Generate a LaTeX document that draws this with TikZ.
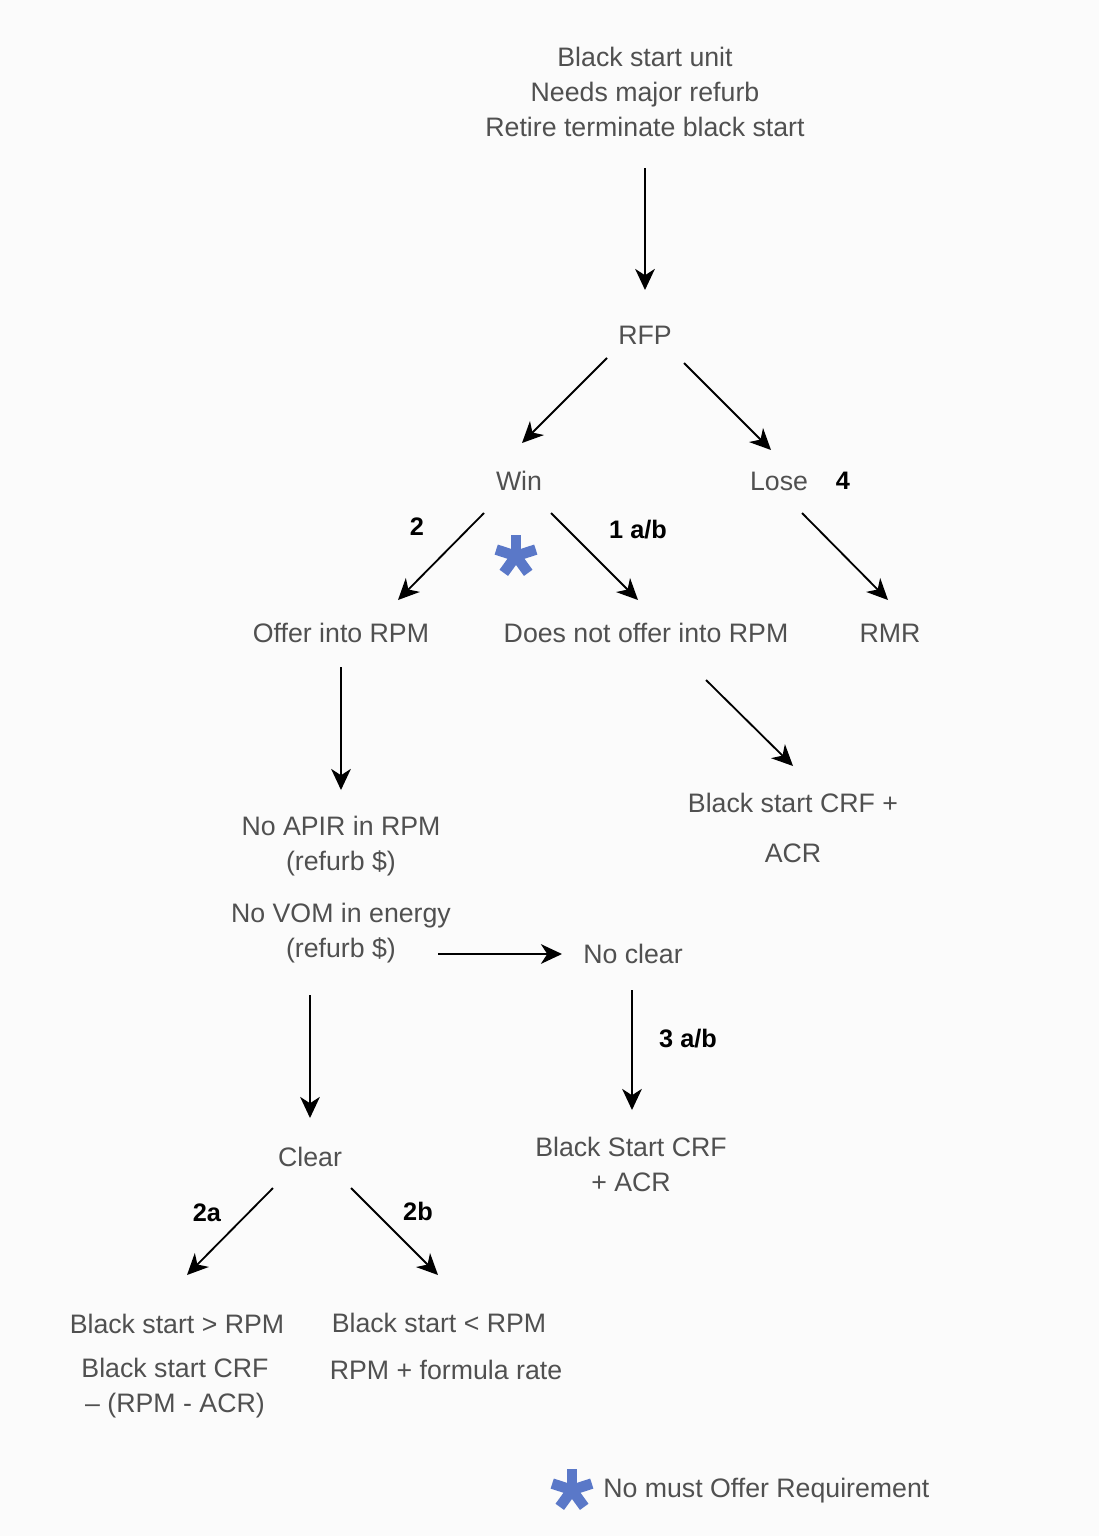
\documentclass[tikz,border=0pt]{standalone}
\usepackage{fontspec}
\setmainfont{Liberation Sans}
\usetikzlibrary{arrows.meta}
\usetikzlibrary{calc}

\definecolor{txtgray}{HTML}{505050}
\definecolor{starblue}{HTML}{5A78C8}
\definecolor{paper}{HTML}{FBFBFB}

\tikzset{
	txt/.style={inner sep=0pt, align=center, text=txtgray, font=\fontsize{19}{25}\selectfont},
	num/.style={inner sep=0pt, text=black, font=\fontsize{18}{22}\selectfont\bfseries},
	arr/.style={line width=1.3pt, -{Stealth[length=15pt,width=14pt,inset=4.5pt]}},
	starline/.style={line width=7.5pt, starblue}
}

\begin{document}
\begin{tikzpicture}[x=0.25mm, y=-0.25mm]
	%Page
	\fill [paper] (0,0) rectangle (1099,1536);
	\useasboundingbox (0,0) rectangle (1099,1536);

	%Top of the tree
	\node [txt] (top) at (645,92) {Black start unit\\Needs major refurb\\Retire terminate black start};
	\node [txt] (rfp) at (645,335) {RFP};
	\node [txt] (win) at (519,481) {Win};
	\node [txt] (lose) at (779,481) {Lose};

	%Second level
	\node [txt] (offer) at (341,633) {Offer into RPM};
	\node [txt] (notoffer) at (646,633) {Does not offer into RPM};
	\node [txt] (rmr) at (890,633) {RMR};
	\node [txt] (crf) at (793,828) {Black start CRF +\\[10pt] ACR};

	%RPM branch
	\node [txt] (apir) at (341,846.5) {No APIR in RPM\\(refurb \$)};
	\node [txt] (vom) at (341,933.5) {No VOM in energy\\(refurb \$)};
	\node [txt] (noclear) at (633,954) {No clear};
	\node [txt] (bscrf) at (631,1164.5) {Black Start CRF\\+ ACR};
	\node [txt] (clear) at (310,1157) {Clear};

	%Outcomes
	\node [txt] (gt) at (177,1324) {Black start > RPM};
	\node [txt] (gtcrf) at (175,1388) {Black start CRF\\– (RPM - ACR)};
	\node [txt] (lt) at (439,1323) {Black start < RPM};
	\node [txt] (ltrate) at (446,1370) {RPM + formula rate};

	%Arrows
	\draw [arr] ($(top)+(0,76)$) -- ($(rfp)+(0,-45)$);
	\draw [arr] ($(rfp)+(-38,23)$) -- ($(win)+(3,-38)$);
	\draw [arr] ($(rfp)+(39,28)$) -- ($(lose)+(-8,-31)$);
	\draw [arr] ($(win)+(-35,32)$) -- ($(offer)+(57,-33)$);
	\draw [arr] ($(win)+(32,32)$) -- ($(notoffer)+(-8,-33)$);
	\draw [arr] ($(lose)+(23,32)$) -- ($(rmr)+(-2,-33)$);
	\draw [arr] ($(offer)+(0,34)$) -- ($(apir)+(0,-56.5)$);
	\draw [arr] ($(notoffer)+(60,47)$) -- ($(crf)+(0,-62)$);
	\draw [arr] ($(vom)+(97,20.5)$) -- ($(noclear)+(-71,0)$);
	\draw [arr] ($(noclear)+(-1,36)$) -- ($(bscrf)+(1,-54.5)$);
	\draw [arr] ($(vom)+(-31,61.5)$) -- ($(clear)+(0,-39)$);
	\draw [arr] ($(clear)+(-37,31)$) -- ($(gt)+(10,-49)$);
	\draw [arr] ($(clear)+(41,31)$) -- ($(lt)+(-1,-48)$);

	%Case numbers
	\node [num] (n4) at (843,481) {4};
	\node [num] (n2) at (417,527) {2};
	\node [num] (n1ab) at (638,530) {1 a/b};
	\node [num] (n3ab) at (688,1039) {3 a/b};
	\node [num] (n2a) at (207,1213) {2a};
	\node [num] (n2b) at (418,1211) {2b};

	%Asterisk on the win branch
	\coordinate (ast) at (516,556);
	\foreach \a in {90,162,234,306,18}
		\draw [starline] (ast) -- ++(\a:5.2mm);

	%Legend
	\coordinate (legast) at (572,1490);
	\foreach \a in {90,162,234,306,18}
		\draw [starline] (legast) -- ++(\a:5.2mm);
	\node [txt, anchor=west] (legend) at (603,1491) {No must Offer Requirement};
\end{tikzpicture}
\end{document}
